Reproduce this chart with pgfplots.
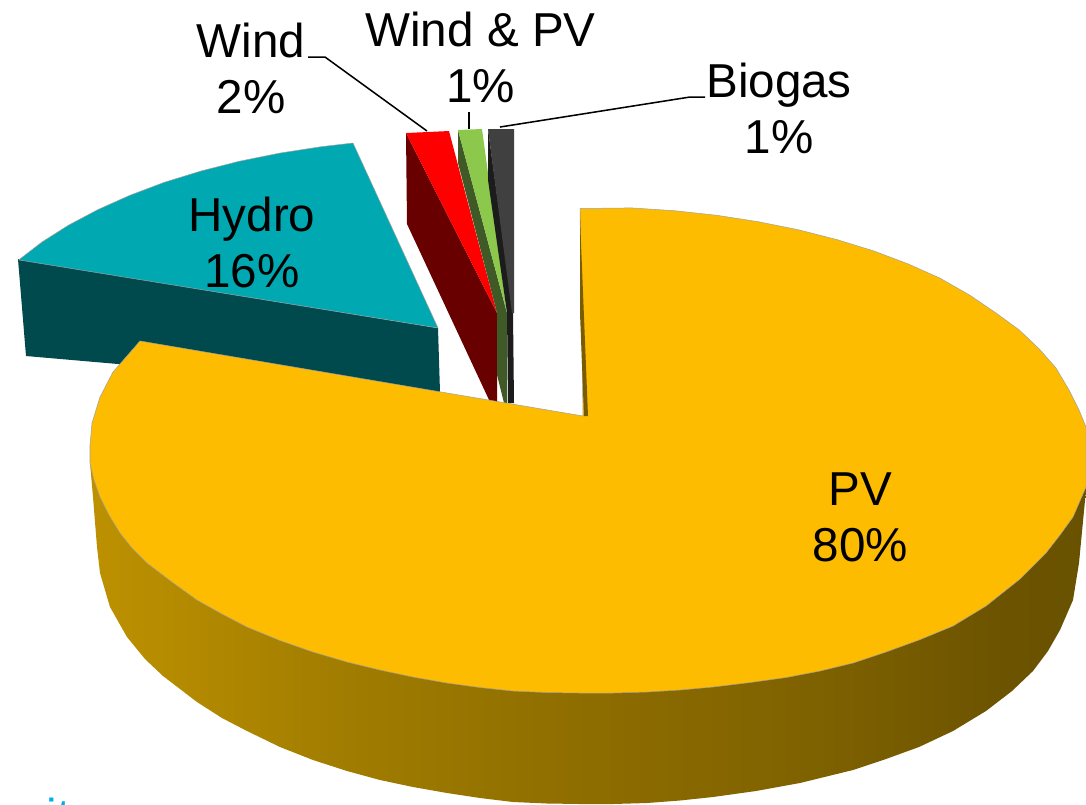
\documentclass[border=0pt]{standalone}
\usepackage{pgfplots}
\pgfplotsset{compat=1.18}
\usepackage{fontspec}
\setmainfont{Liberation Sans}
\definecolor{pvtop}{HTML}{FDBC00}
\definecolor{hydrotop}{HTML}{00A9B1}
\definecolor{hydroside}{HTML}{004A4E}
\definecolor{windtop}{HTML}{FF0000}
\definecolor{windside}{HTML}{680000}
\definecolor{wptop}{HTML}{8CC84B}
\definecolor{wpside}{HTML}{3F5A26}
\definecolor{biotop}{HTML}{404040}
\definecolor{bioside}{HTML}{1C1C1C}
\definecolor{pvwall}{HTML}{7A5C00}
\definecolor{cyantext}{HTML}{00AEEF}
\definecolor{edgegray}{HTML}{A0A0A0}
\definecolor{g0}{HTML}{D9A800}
\definecolor{g1}{HTML}{D0A000}
\definecolor{g2}{HTML}{C49600}
\definecolor{g3}{HTML}{B58B00}
\definecolor{g4}{HTML}{A07C00}
\definecolor{g5}{HTML}{8E6D00}
\definecolor{g6}{HTML}{7F6200}
\definecolor{g7}{HTML}{6C5300}
\definecolor{g8}{HTML}{655000}
\pgfdeclarehorizontalshading{sidegrad}{100bp}{
  color(0bp)=(g0);
  color(11bp)=(g1);
  color(21bp)=(g2);
  color(29bp)=(g3);
  color(38bp)=(g4);
  color(50bp)=(g5);
  color(61bp)=(g6);
  color(71bp)=(g7);
  color(78bp)=(g8);
  color(100bp)=(g8)}
\tikzset{lbl/.style={font=\fontsize{18.7}{22}\selectfont,align=center,text=black,inner sep=0pt}}
\begin{document}
\begin{tikzpicture}
\useasboundingbox (0,0) rectangle (15cm,11.105cm);
\clip (0,0) rectangle (15cm,11.105cm);
\begin{axis}[
  scale only axis, width=15cm, height=11.105cm,
  xmin=0, xmax=1086, ymin=0, ymax=804, y dir=reverse,
  hide axis, anchor=south west, at={(0,0)},
]
% PV side wall
\addplot[shading=sidegrad, draw=none] coordinates {
(90,445)(90,463)(93,497)(97,547)(100,573)(110,607)(127,637)(145,659)(163,676)(197,702)(222,718)(247,731)(280,747)(313,760)(347,771)(380,780)(413,787)(447,793)(480,798)(513,802)(547,803.5)(580,804)(613,804)(647,803)(680,800.5)(713,797)(756,791)(800,783)(853,770)(886,759)(919,747)(953,731)(986,711)(1012,691)(1033,671)(1048,651)(1060,630)(1073,600)(1079,563)(1086,490)(1086,445)
} -- cycle;
% Hydro
\addplot[fill=hydroside, draw=none] coordinates {(18,259)(438,328)(440,392)(26,356)} -- cycle;
\addplot[fill=hydrotop, draw=edgegray, line width=0.2pt] coordinates {(18.7,259.9)(42,242)(68.5,225.2)(97.9,209.6)(129.9,195.3)(164.3,182.3)(201,171)(239.5,161.2)(279.7,153.1)(321.1,146.7)(353,143)(438,328)} -- cycle;
% Wind
\addplot[fill=windside, draw=none] coordinates {(406,133)(407,224)(490,402)(497,402)(497,313)} -- cycle;
\addplot[fill=windtop, draw=none] coordinates {(406,133)(449,131)(497,313)} -- cycle;
% Wind and PV
\addplot[fill=wpside, draw=none] coordinates {(458,130)(458,163)(497,313)(497,375)(504,403)(507,403)(507,313)} -- cycle;
\addplot[fill=wptop, draw=none] coordinates {(458,130)(482,129)(507,313)} -- cycle;
% Biogas
\addplot[fill=bioside, draw=none] coordinates {(488,129)(488,180)(507,313)(508,403)(514,403)(513,313)} -- cycle;
\addplot[fill=biotop, draw=none] coordinates {(488,129)(514,129)(514,313)(512,313)} -- cycle;
% PV top
\addplot[fill=pvtop, draw=edgegray, line width=0.2pt] coordinates {
(580,208.5)(631.4,207.9)(674.5,210.7)(716.9,215.3)(758.3,221.7)(798.5,229.8)(837,239.6)(873.7,250.9)(908.1,263.9)(940.1,278.2)(969.5,295)(996,313)(1019.3,330)(1039.3,349)(1056,368)(1069,390)(1079,410)(1086,427)(1086,487)(1073,517)(1060,535)(1046,553)(1020,579)(986,606)(953,626)(919,640)(886,652)(853,663)(820,671)(786,677.5)(750,682.5)(713,687)(680,690)(647,692)(613,693)(580,693)(547,692.5)(513,691)(480,687.5)(447,683)(413,677)(380,670)(347,662)(313,652)(280,640.5)(247,627)(222,614)(197,600)(172,582)(147,563)(132,548)(120,533)(109,515)(100,497)(94,480)(90,463)(90,445)(92,423)(100,397)(113,372)(140,341)(583,416)
} -- cycle;
\addplot[fill=pvwall, draw=none] coordinates {(580,212)(580,313)(584,416)(588,416)(581,243)} -- cycle;
% Leader lines
\addplot[black, line width=0.6pt] coordinates {(308,57)(325,57)(427,131)};
\addplot[black, line width=0.6pt] coordinates {(469,112)(469,129)};
\addplot[black, line width=0.6pt] coordinates {(500,127)(690,97)(705,97)};
% Labels
\node[lbl] at (axis cs:251,68.5) {Wind\\2\%};
\node[lbl] at (axis cs:480.5,57) {Wind \& PV\\1\%};
\node[lbl] at (axis cs:779,108.5) {Biogas\\1\%};
\node[lbl] at (axis cs:252,242.5) {Hydro\\16\%};
\node[lbl] at (axis cs:860.5,517) {PV\\80\%};
\node[font=\fontsize{18.7}{22}\selectfont, text=cyantext, inner sep=0pt, anchor=north west] at (axis cs:46,797) {it};
\end{axis}
\end{tikzpicture}
\end{document}
